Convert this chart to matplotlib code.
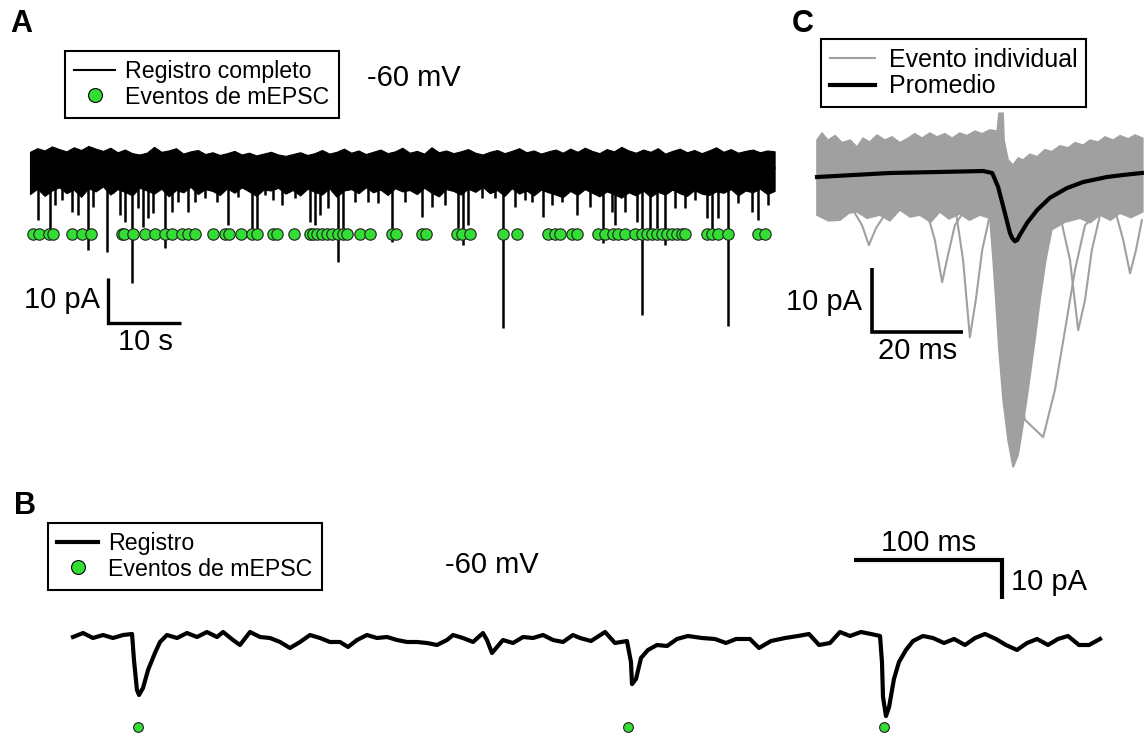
import numpy as np
import matplotlib
matplotlib.use("Agg")
import matplotlib.pyplot as plt
from matplotlib.lines import Line2D

plt.rcParams['font.family'] = ['Liberation Sans', 'DejaVu Sans']

# ---------------- Panel A: full recording (s, pA) ----------------
a_top = [3.6, 4.4, 3.9, 4.8, 4.2, 3.7, 4.6, 4.0, 4.9, 4.3, 3.8, 4.5, 3.5, 4.1, 3.3,
         3.0, 3.4, 4.7, 3.6, 3.9, 4.4, 3.2, 3.7, 4.0, 3.1, 3.5, 2.9, 3.3, 3.8, 3.0,
         3.4, 2.8, 3.2, 3.6, 3.0, 2.7, 3.1, 3.5, 2.9, 3.3, 4.0, 3.2, 3.6, 4.3, 3.4,
         3.9, 3.1, 3.6, 4.1, 3.3, 3.7, 4.5, 3.4, 3.8, 3.2, 4.6, 3.5, 3.9, 3.3, 3.7,
         4.2, 3.4, 3.0, 3.6, 4.0, 3.3, 3.8, 4.4, 3.5, 3.9, 3.2, 3.7, 4.1, 3.4, 4.3,
         3.6, 4.5, 3.8, 3.3, 4.2, 3.7, 4.7, 3.9, 3.4, 4.1, 3.6, 4.4, 3.2, 3.8, 4.3,
         3.5, 4.0, 3.3, 3.9, 4.6, 3.6, 4.2, 3.4, 3.8, 4.1, 3.5, 3.9, 3.7]
a_bottom = [-5.8, -4.6, -6.2, -5.0, -4.3, -5.6, -4.8, -6.4, -4.5, -5.2, -4.1, -5.9, -4.7, -5.3,
            -6.1, -4.4, -5.0, -5.7, -4.6, -6.3, -4.9, -5.4, -4.2, -5.8, -4.7, -5.1, -6.0, -4.5,
            -5.5, -4.3, -5.2, -6.2, -4.8, -5.0, -4.4, -5.7, -4.9, -6.1, -4.6, -5.3, -5.9, -4.5,
            -6.4, -5.0, -4.7, -5.6, -4.3, -5.4, -4.8, -6.0, -4.5, -5.2, -4.9, -5.8, -4.4, -5.5,
            -6.3, -4.7, -5.1, -5.9, -4.6, -5.3, -4.2, -5.6, -4.9, -6.2, -4.5, -5.7, -5.0, -6.1,
            -4.8, -5.4, -5.9, -6.5, -5.1, -6.0, -4.7, -5.5, -6.3, -5.2, -5.8, -6.6, -5.4, -6.1,
            -5.0, -6.4, -5.3, -5.9, -4.8, -5.6, -6.2, -4.9, -5.7, -6.0, -5.2, -5.5, -4.7, -6.1,
            -5.0, -5.4, -4.6, -5.8, -5.1]

spike_t = [1.10, 2.74, 3.42, 4.38, 5.75, 6.58, 7.95, 8.63, 10.55, 11.37, 12.33, 13.01,
           13.97, 14.79, 15.48, 16.16, 16.85, 18.49, 19.45, 20.27, 21.64, 22.60, 23.97,
           25.62, 27.12, 28.49, 30.41, 31.10, 32.19, 33.29, 34.52, 36.30, 38.36, 39.04,
           39.73, 40.82, 42.19, 42.88, 44.52, 46.30, 47.67, 49.59, 51.37, 53.70, 55.07,
           56.85, 58.63, 59.32, 60.00, 61.92, 63.70, 64.79, 66.44, 67.81, 68.77, 70.27,
           71.51, 72.88, 74.93, 76.71, 78.49, 79.73, 80.14, 81.51, 83.15, 83.84, 84.93,
           85.89, 86.99, 88.36, 89.73, 91.10, 92.74, 93.42, 94.25, 95.62, 96.99, 98.90,
           99.73, 101.10]
spike_pA = [-11.6, -14.2, -8.2, -7.1, -9.8, -10.4, -18.2, -8.7, -18.7, -5.6, -10.4, -12.0,
            -25.6, -8.9, -13.1, -11.1, -10.0, -17.8, -9.8, -7.6, -9.8, -7.6, -6.7,
            -7.6, -12.7, -6.4, -14.2, -14.9, -6.0, -7.1, -8.2, -6.7, -12.0, -12.7,
            -10.4, -8.9, -20.9, -14.9, -7.6, -7.6, -7.8, -16.4, -7.6, -10.9, -8.7,
            -8.2, -13.3, -17.1, -12.7, -6.7, -6.7, -35.6, -8.7, -7.1, -7.6, -10.9,
            -8.2, -7.6, -10.4, -8.7, -16.7, -9.8, -12.7, -9.8, -12.0, -32.7, -14.9,
            -13.3, -17.1, -8.9, -8.9, -7.1, -11.1, -14.9, -11.1, -35.1, -7.8, -9.8,
            -11.6, -8.2]

events_a = [0.45, 1.23, 2.60, 3.19, 5.71, 7.16, 8.36, 12.56, 12.92, 14.15, 15.75, 17.12,
            18.49, 19.41, 20.78, 21.68, 22.60, 25.11, 26.71, 27.26, 28.90, 30.37, 31.14,
            33.33, 33.79, 36.21, 38.36, 38.81, 39.27, 39.96, 40.64, 41.33, 42.23, 42.92,
            43.38, 45.21, 46.58, 49.55, 50.10, 53.66, 54.21, 58.45, 59.14, 60.27, 64.84,
            66.67, 71.00, 71.92, 72.60, 74.21, 74.89, 77.85, 78.77, 79.90, 80.59, 81.51,
            82.88, 83.79, 84.48, 85.16, 85.85, 86.53, 87.22, 87.90, 88.59, 89.27, 89.73,
            92.70, 93.38, 94.29, 95.66, 99.77, 100.68]

# ---------------- Panel B: zoomed recording (ms, pA) ----------------
b_t = [0, 6.8, 13.5, 20.3, 27.0, 33.8, 39.9, 41.2, 43.2, 44.6, 47.3, 50.7, 55.4, 58.8,
       63.5, 70.3, 77.0, 83.8, 90.5, 97.3, 101.4, 108.1, 112.8, 119.6, 126.4, 133.1,
       139.9, 146.6, 153.4, 160.1, 166.9, 173.6, 180.4, 185.8, 191.9, 198.6, 205.4,
       212.2, 218.9, 225.7, 232.4, 239.2, 245.9, 252.7, 256.8, 263.5, 270.3, 277.0,
       279.7, 283.1, 286.5, 290.5, 297.3, 304.1, 310.8, 317.6, 324.3, 331.1, 337.8,
       342.6, 350.0, 359.5, 366.2, 374.3, 377.0, 377.7, 380.4, 383.8, 388.5, 394.6,
       401.4, 408.1, 415.5, 425.0, 433.8, 441.2, 448.0, 457.4, 463.5, 471.6, 481.1,
       489.9, 497.3, 504.1, 511.5, 518.2, 525.0, 532.4, 539.2, 545.3, 546.6, 547.3,
       549.3, 551.4, 554.7, 558.1, 562.8, 567.6, 574.3, 581.1, 588.5, 595.3, 602.7,
       609.5, 616.2, 623.6, 630.4, 637.8, 644.6, 651.4, 658.8, 665.5, 672.3, 679.7,
       686.5, 693.9]
b_pA = [0.77, 1.79, 0.51, 1.28, 0.51, 1.28, 1.54, -5.13, -12.8, -14.1, -12.3, -7.7, -3.3,
        -0.51, 1.28, 0.51, 1.79, 0.77, 2.05, 0.77, 2.05, 0.0, -1.28, 2.05, 0.77, 0.51,
        -0.51, -2.05, -0.51, 1.28, 0.51, -0.51, -0.51, -1.79, 0.0, 1.28, 0.51,
        0.77, 0.0, -0.51, -0.51, -0.77, -1.28, 0.0, 1.28, 0.51, -0.51, 1.79,
        0.0, -3.33, -1.79, 0.0, -0.77, 0.77, 0.51, 1.28, 0.0, -0.51, 1.28,
        0.51, -0.26, 2.05, -0.77, -0.26, -5.64, -11.3, -10.0, -4.6, -2.56, -1.28,
        -1.54, 0.26, 1.03, 0.51, 0.26, -0.77, 0.26, 0.26, -2.05, -0.26, 0.51,
        1.03, 1.54, -1.28, -0.77, 2.05, 1.03, 2.05, 1.54, 1.03, -5.64, -14.6,
        -19.5, -17.2, -10.0, -5.64, -2.56, -0.26, 1.03, 0.51, -0.77, 0.26, -1.28,
        0.51, 1.54, 0.26, -1.28, -2.56, -0.77, 0.26, -1.28, 0.26, 1.03, -1.28,
        -1.28, 0.26]
events_b = [43.9, 375.0, 547.9]

# ---------------- Panel C: aligned events (ms, pA) ----------------
c_up_t = [0.0, 1.1, 2.4, 4.0, 5.5, 7.3, 8.8, 10.1, 11.6, 13.2, 14.9, 16.5, 18.2, 19.8,
          21.5, 23.1, 24.8, 26.4, 28.1, 29.7, 31.4, 33.0, 34.7, 36.3, 38.0, 39.6, 40.0,
          40.9, 41.1, 42.0, 43.1, 44.2, 45.3, 46.8, 48.4, 50.1, 51.6, 53.4, 55.2, 56.7,
          58.5, 60.0, 61.8, 63.3, 65.1, 66.6, 68.4, 69.9, 71.6]
c_up_pA = [5.6, 6.7, 5.6, 6.3, 5.2, 5.6, 4.5, 5.9, 5.3, 6.4, 5.6, 6.1, 5.2, 5.8,
           6.6, 5.9, 6.7, 6.1, 6.6, 5.9, 6.7, 6.3, 7.0, 6.6, 7.2, 7.0, 9.8,
           9.8, 5.6, 2.5, 1.7, 2.8, 2.5, 3.4, 3.0, 4.1, 3.8, 4.7, 4.4, 5.2,
           4.8, 5.6, 5.3, 6.1, 5.6, 6.3, 5.8, 6.4, 5.9]
c_low_t = [0.0, 2.5, 5.05, 7.0, 8.8, 11.0, 13.8, 16.0, 18.2, 20.5, 22.6, 25.0, 27.0, 29.0,
           31.4, 33.5, 35.8, 38.0, 38.7, 39.3, 40.0, 40.9, 42.0, 43.1, 44.2, 45.1, 46.4,
           47.9, 49.0, 50.3, 51.6, 54.5, 57.8, 60.0, 62.2, 64.5, 66.6, 69.0, 71.6]
c_low_pA = [-6.1, -7.0, -6.9, -5.8, -5.6, -6.6, -6.1, -7.0, -5.3, -6.4, -6.1, -7.2, -5.6, -6.7,
            -5.9, -6.9, -6.1, -6.6, -13.1, -19.4, -27.2, -35.0, -41.3, -45.5, -43.6, -39.7, -33.4,
            -25.6, -19.4, -13.1, -8.4, -7.2, -6.6, -7.3, -6.1, -6.9, -5.8, -6.5, -5.6]

c_single = [
    ([7.25, 9.9, 11.4, 13.0, 15.6], [-4.5, -7.7, -10.8, -8.1, -5.3]),
    ([23.7, 25.9, 27.5, 28.8, 30.3, 32.5], [-4.5, -10.0, -16.6, -12.3, -7.7, -5.3]),
    ([30.3, 32.1, 33.6, 34.9, 36.3, 38.0], [-4.5, -13.1, -25.2, -19.4, -11.6, -6.1]),
    ([40.2, 42.4, 45.7, 49.7, 52.3, 54.5, 56.7, 58.9, 62.2],
     [-6.9, -24.1, -38.1, -40.8, -33.4, -24.1, -14.7, -7.7, -5.3]),
    ([53.4, 55.6, 57.4, 58.9, 60.4, 62.2], [-6.1, -13.1, -24.1, -19.4, -11.6, -6.1]),
    ([65.5, 67.3, 68.8, 70.1, 71.4], [-5.3, -10.0, -15.2, -11.6, -6.9]),
]

c_avg_t = [0, 16.0, 27.0, 36.5, 38.5, 39.8, 41.3, 42.4, 42.9, 43.5, 44.0, 44.6, 46.2, 48.4,
           51.2, 54.9, 58.5, 63.7, 67.3, 71.4]
c_avg_pA = [-0.16, 0.47, 0.63, 0.78, 0.47, -1.7, -5.8, -8.9, -9.7, -10.2, -10.0, -9.2, -7.3,
            -5.3, -3.4, -1.9, -0.94, -0.16, 0.16, 0.47]

GREEN = '#33dd33'
GREY = '#a0a0a0'
W, H = 1144, 736
fig = plt.figure(figsize=(W / 100, H / 100), dpi=100)


def frame(box, xref, yref, xs, ys):
    """Axes placed by pixel box; xs/ys are pixels per data unit."""
    left, top, right, bottom = box
    xpx0, xval0 = xref
    ypx0, yval0 = yref
    ax = fig.add_axes([left / W, 1 - bottom / H, (right - left) / W, (bottom - top) / H])
    ax.set_xlim(xval0 + (left - xpx0) / xs, xval0 + (right - xpx0) / xs)
    ax.set_ylim(yval0 - (bottom - ypx0) / ys, yval0 - (top - ypx0) / ys)
    ax.axis('off')
    return ax


def legend(ax, handles, labels, x, y, size, pad=0.4, hl=1.75, htp=0.45):
    lg = ax.legend(handles, labels, loc='upper left', bbox_to_anchor=(x / W, 1 - y / H),
                   bbox_transform=fig.transFigure, fontsize=size, frameon=True,
                   fancybox=False, edgecolor='black', framealpha=1, borderpad=pad,
                   handlelength=hl, handletextpad=htp, labelspacing=0.1,
                   borderaxespad=0)
    lg.get_frame().set_linewidth(1.5)
    return lg


# ---- A ----
axA = frame((0, 40, 790, 360), (30, 0.0), (168, 0.0), 7.3, 4.5)
ta = np.linspace(0, 102, len(a_top))
tb = np.linspace(0, 102, len(a_bottom))
axA.fill_between(ta, 0, a_top, color='black', lw=0.8, edgecolor='black')
axA.fill_between(tb, a_bottom, 0.2, color='black', lw=0.8, edgecolor='black')
axA.vlines(spike_t, -3.5, spike_pA, color='black', lw=1.8)
axA.plot(events_a, np.full(len(events_a), -14.7), 'o', ls='none', ms=8.2,
         mfc=GREEN, mec='#202020', mew=0.8)
# scale bars: 10 pA, 10 s
axA.plot([10.68, 10.68, 20.68], [-24.4, -34.4, -34.4], color='black', lw=2.4,
         solid_joinstyle='miter', solid_capstyle='butt')
axA.text(9.6, -29.3, '10 pA', ha='right', va='center', fontsize=21)
axA.text(15.75, -38.6, '10 s', ha='center', va='center', fontsize=21)
legend(axA, [Line2D([], [], color='black', lw=1.5),
             Line2D([], [], ls='none', marker='o', ms=10, mfc=GREEN, mec='black', mew=0.8)],
       ['Registro completo', 'Eventos de mEPSC'], 65, 51, 16.7)
fig.text(367 / W, 1 - 78 / H, '-60 mV', fontsize=21, va='center', ha='left')
fig.text(10 / W, 1 - 24 / H, 'A', fontsize=22, fontweight='bold', va='center', ha='left')

# ---- B ----
axB = frame((40, 500, 1144, 736), (73, 0.0), (640, 0.0), 1.48, 3.9)
axB.plot(b_t, b_pA, color='black', lw=3, solid_joinstyle='round')
axB.plot(events_b, np.full(len(events_b), -22.3), 'o', ls='none', ms=7,
         mfc=GREEN, mec='#202020', mew=0.8)
axB.plot([527.7, 627.7, 627.7], [20.5, 20.5, 10.5], color='black', lw=3,
         solid_joinstyle='miter', solid_capstyle='butt')
axB.text(578.4, 24.9, '100 ms', ha='center', va='center', fontsize=21)
axB.text(633.8, 14.9, '10 pA', ha='left', va='center', fontsize=21)
legend(axB, [Line2D([], [], color='black', lw=3),
             Line2D([], [], ls='none', marker='o', ms=10, mfc=GREEN, mec='black', mew=0.8)],
       ['Registro', 'Eventos de mEPSC'], 48, 523, 16.7)
fig.text(445 / W, 1 - 565 / H, '-60 mV', fontsize=21, va='center', ha='left')
fig.text(14 / W, 1 - 506 / H, 'B', fontsize=22, fontweight='bold', va='center', ha='left')

# ---- C ----
axC = frame((800, 100, 1144, 480), (817, 0.0), (176, 0.0), 4.55, 6.4)
axC.fill(np.concatenate([c_up_t, c_low_t[::-1]]),
         np.concatenate([c_up_pA, c_low_pA[::-1]]), color=GREY, lw=1.2, ec=GREY)
for st, sp in c_single:
    axC.plot(st, sp, color=GREY, lw=1.5)
axC.plot(c_avg_t, c_avg_pA, color='black', lw=3)
axC.plot([12.1, 12.1, 32.1], [-14.4, -24.4, -24.4], color='black', lw=2.6,
         solid_joinstyle='miter', solid_capstyle='butt')
axC.text(9.9, -19.7, '10 pA', ha='right', va='center', fontsize=21)
axC.text(22.0, -27.4, '20 ms', ha='center', va='center', fontsize=21)
legend(axC, [Line2D([], [], color=GREY, lw=1.5), Line2D([], [], color='black', lw=3)],
       ['Evento individual', 'Promedio'], 821, 39, 18, pad=0.35, hl=1.8, htp=0.55)
fig.text(792 / W, 1 - 24 / H, 'C', fontsize=22, fontweight='bold', va='center', ha='left')

fig.savefig('out.png', dpi=100)
